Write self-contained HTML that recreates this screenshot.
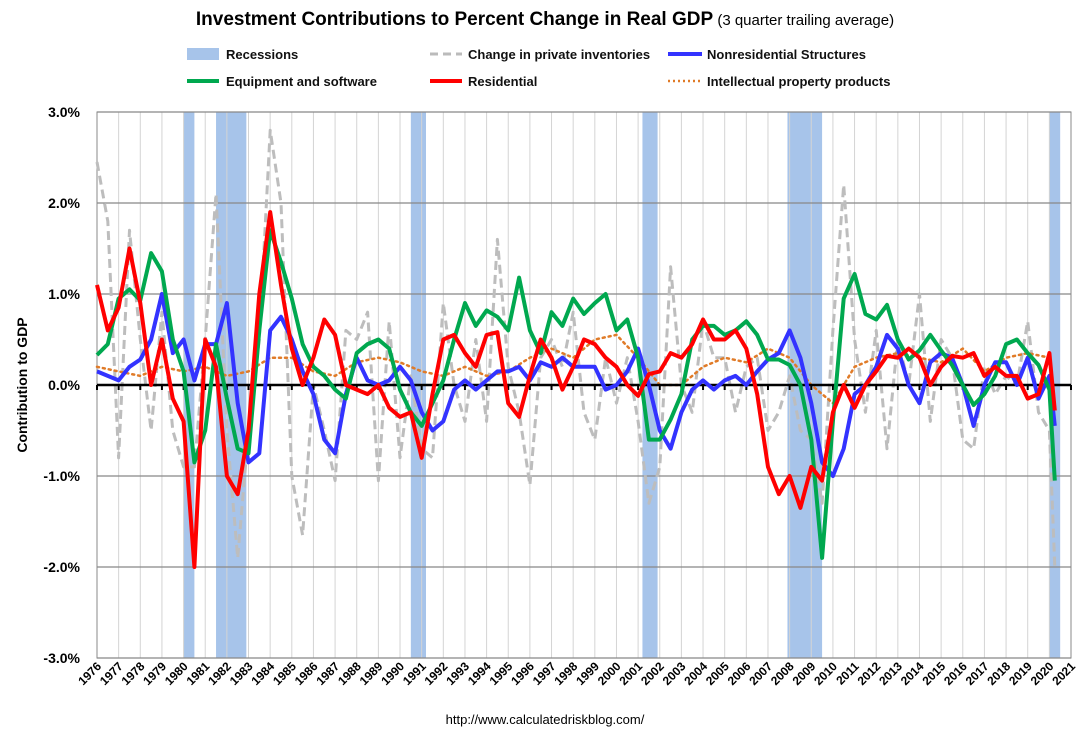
<!DOCTYPE html>
<html><head><meta charset="utf-8"><style>
body{margin:0;background:#fff}
svg{display:block;font-family:"Liberation Sans",sans-serif}
</style></head><body>
<svg id="c" width="1087" height="739">
<text x="545" y="25" text-anchor="middle"><tspan font-weight="bold" font-size="19">Investment Contributions to Percent Change in Real GDP</tspan><tspan font-size="15"> (3 quarter trailing average)</tspan></text>
<g font-size="13" font-weight="bold" fill="#111">
<g><rect x="187" y="48" width="32" height="12" fill="#a7c4ea"/><text x="226" y="59">Recessions</text></g>
<g><line x1="430" y1="54" x2="462" y2="54" stroke="#bbb" stroke-width="3" stroke-dasharray="8,5"/><text x="468" y="59">Change in private inventories</text></g>
<g><line x1="668" y1="54" x2="702" y2="54" stroke="#3333ff" stroke-width="4"/><text x="707" y="59">Nonresidential Structures</text></g>
<g><line x1="187" y1="81" x2="219" y2="81" stroke="#00a84f" stroke-width="4"/><text x="226" y="86">Equipment and software</text></g>
<g><line x1="430" y1="81" x2="462" y2="81" stroke="#ff0000" stroke-width="4"/><text x="468" y="86">Residential</text></g>
<g><line x1="668" y1="81" x2="702" y2="81" stroke="#e07b28" stroke-width="2.5" stroke-dasharray="2,3"/><text x="707" y="86">Intellectual property products</text></g>
</g>
<text transform="translate(27,385) rotate(-90)" text-anchor="middle" font-size="14" font-weight="bold">Contribution to GDP</text>
<text x="545" y="724" text-anchor="middle" font-size="13">http://www.calculatedriskblog.com/</text>
<g id="plot"></g>
</svg>
<script>
const halfYears=[];for(let i=0;i<=88;i++)halfYears.push(1976+i*0.5);halfYears.push(2020.25);
const equipment=[0.33,0.45,0.95,1.05,0.93,1.45,1.25,0.5,0.15,-0.85,-0.5,0.45,-0.15,-0.7,-0.75,0.6,1.7,1.35,0.95,0.45,0.2,0.1,-0.05,-0.15,0.35,0.45,0.5,0.4,-0.05,-0.3,-0.45,-0.2,0.05,0.5,0.9,0.65,0.82,0.75,0.6,1.18,0.6,0.35,0.8,0.65,0.95,0.78,0.9,1.0,0.6,0.72,0.3,-0.6,-0.6,-0.38,-0.1,0.5,0.65,0.65,0.55,0.6,0.7,0.55,0.28,0.28,0.22,0.0,-0.6,-1.9,-0.4,0.95,1.22,0.78,0.72,0.88,0.5,0.28,0.38,0.55,0.38,0.22,0.0,-0.22,-0.1,0.1,0.45,0.5,0.35,0.22,-0.05,-1.05];
const residential=[1.1,0.6,0.85,1.5,0.9,0.0,0.5,-0.15,-0.4,-2.0,0.5,0.2,-1.0,-1.2,-0.5,1.0,1.9,1.1,0.4,0.0,0.3,0.72,0.55,0.0,-0.05,-0.1,0.0,-0.25,-0.35,-0.3,-0.8,-0.1,0.5,0.55,0.35,0.2,0.55,0.58,-0.2,-0.35,0.1,0.5,0.3,-0.05,0.2,0.5,0.45,0.3,0.2,0.0,-0.12,0.12,0.15,0.35,0.3,0.45,0.72,0.5,0.5,0.6,0.4,-0.1,-0.9,-1.2,-1.0,-1.35,-0.9,-1.05,-0.3,0.0,-0.25,0.0,0.15,0.32,0.3,0.4,0.3,0.0,0.2,0.32,0.3,0.35,0.1,0.2,0.1,0.1,-0.15,-0.1,0.35,-0.28];
const nonresidential=[0.15,0.1,0.05,0.2,0.28,0.5,1.0,0.35,0.5,0.05,0.45,0.45,0.9,-0.2,-0.85,-0.75,0.6,0.75,0.5,0.15,-0.1,-0.6,-0.75,-0.1,0.3,0.05,0.0,0.05,0.2,0.05,-0.3,-0.5,-0.4,-0.05,0.05,-0.05,0.05,0.15,0.15,0.2,0.05,0.25,0.2,0.3,0.2,0.2,0.2,-0.05,0.0,0.15,0.4,0.0,-0.5,-0.7,-0.3,-0.05,0.05,-0.05,0.05,0.1,0.0,0.15,0.28,0.35,0.6,0.3,-0.2,-0.85,-1.0,-0.7,-0.1,0.0,0.2,0.55,0.4,0.0,-0.2,0.25,0.35,0.3,0.0,-0.45,0.0,0.25,0.25,0.0,0.3,-0.15,0.1,-0.45];
const inventories=[2.45,1.8,-0.8,1.7,0.5,-0.5,0.8,-0.5,-0.9,-0.9,0.5,2.1,-0.5,-1.9,-0.5,0.5,2.8,2.0,-1.0,-1.65,0.0,-0.5,-1.05,0.6,0.5,0.8,-1.05,0.7,-0.8,0.1,-0.7,-0.8,0.9,0.0,-0.4,0.5,-0.4,1.6,0.2,-0.3,-1.1,0.3,0.5,0.2,0.8,-0.3,-0.6,0.3,-0.2,0.3,-0.4,-1.3,-0.9,1.3,0.0,-0.3,0.7,0.3,0.3,-0.3,0.2,0.3,-0.5,-0.3,0.1,-0.5,-0.6,-1.3,0.6,2.2,0.5,-0.3,0.6,-0.7,0.5,0.0,1.0,-0.4,0.5,0.3,-0.6,-0.7,0.2,-0.1,0.1,0.0,0.7,-0.3,-0.5,-2.0];
const ippYears=[];for(let y=1976;y<=2020;y++)ippYears.push(y);
const ipp=[0.2,0.15,0.1,0.2,0.15,0.2,0.1,0.15,0.3,0.3,0.15,0.1,0.25,0.3,0.25,0.15,0.1,0.2,0.1,0.15,0.3,0.4,0.3,0.5,0.55,0.3,0.0,0.0,0.2,0.3,0.25,0.4,0.3,0.0,-0.2,0.2,0.3,0.35,0.3,0.25,0.4,0.15,0.3,0.35,0.3];
const recessionStarts=[1980.0,1981.5,1990.5,2001.2,2007.9,2020.0];
const recessionEnds=[1980.5,1982.9,1991.2,2001.9,2009.5,2020.5];
const yTicks=[3,2,1,0,-1,-2,-3];
const yTickLabels=["3.0%","2.0%","1.0%","0.0%","-1.0%","-2.0%","-3.0%"];
const xYears=[];for(let y=1976;y<=2021;y++)xYears.push(y);

const L=97,R=1071,T=112,B=658;
const X=t=>L+(t-1976)/(2021-1976)*(R-L);
const Y=v=>385-v*91;
const NS="http://www.w3.org/2000/svg";
const g=document.getElementById('plot');
function mk(tag,at,parent){const e=document.createElementNS(NS,tag);for(const k in at)e.setAttribute(k,at[k]);(parent||g).appendChild(e);return e;}

for(let i=0;i<recessionStarts.length;i++){
 const r=mk('rect',{x:X(recessionStarts[i]),y:T,width:X(recessionEnds[i])-X(recessionStarts[i]),height:B-T,fill:'#a7c4ea'});
 
 
}
xYears.forEach(y=>{
 const l=mk('line',{x1:X(y),x2:X(y),y1:T,y2:B,stroke:'#d4d4d4','stroke-width':1});
 
 
 const tx=mk('text',{x:0,y:0,transform:`translate(${X(y)+5},${B+9}) rotate(-45)`,'text-anchor':'end','font-size':12,'font-weight':'bold'});
 tx.textContent=y;
 
 
});
yTicks.forEach((v,i)=>{
 if(v!==0){const l=mk('line',{x1:L,x2:R,y1:Y(v),y2:Y(v),stroke:'#888','stroke-width':1.2});
 
 }
 const tx=mk('text',{x:80,y:Y(v)+5,'text-anchor':'end','font-size':14,'font-weight':'bold'});
 tx.textContent=yTickLabels[i];
 
 
});
const frame=mk('rect',{x:L,y:T,width:R-L,height:B-T,fill:'none',stroke:'#888','stroke-width':1});



function line(xs,vs,st,name){
 const p=mk('path',Object.assign({d:vs.map((v,i)=>(i?'L':'M')+X(xs[i]).toFixed(1)+','+Y(v).toFixed(1)).join(''),fill:'none','stroke-linejoin':'round'},st));
 
 
}
line(halfYears,inventories,{stroke:'#bdbdbd','stroke-width':3,'stroke-dasharray':'9,5'},'inventories-line');
line(ippYears,ipp,{stroke:'#e07b28','stroke-width':2.5,'stroke-dasharray':'2,4','stroke-linecap':'round'},'ipp-line');
const zero=mk('line',{x1:L,x2:R,y1:Y(0),y2:Y(0),stroke:'#000','stroke-width':2.5});


xYears.forEach(y=>{const t=mk('line',{x1:X(y),x2:X(y),y1:Y(0),y2:Y(0)+5,stroke:'#000','stroke-width':2});
 
 });
line(halfYears,nonresidential,{stroke:'#3333ff','stroke-width':4},'nonresidential-line');
line(halfYears,equipment,{stroke:'#00a84f','stroke-width':4},'equipment-line');
line(halfYears,residential,{stroke:'#ff0000','stroke-width':4},'residential-line');
</script>
</body></html>
